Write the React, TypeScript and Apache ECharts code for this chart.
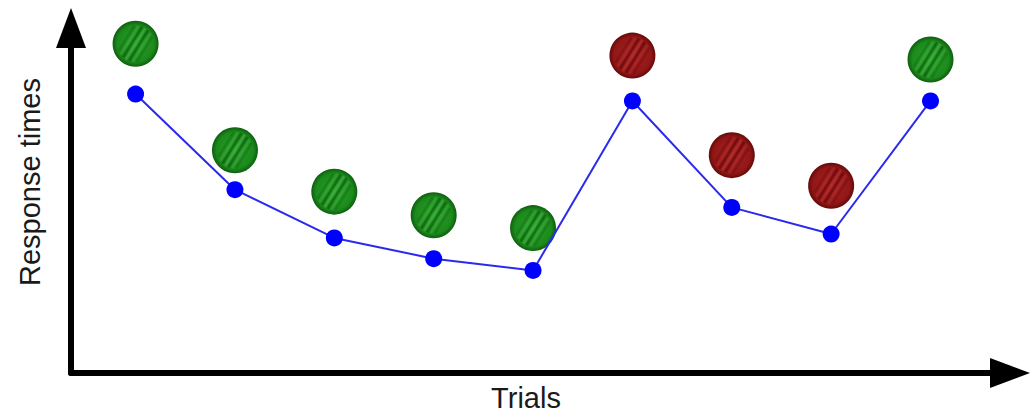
import React, { useEffect, useRef } from "react";
import * as echarts from "echarts";

const trials = [1, 2, 3, 4, 5, 6, 7, 8, 9];
const responseTimes = [28.3, 18.6, 13.7, 11.6, 10.4, 27.6, 16.8, 14.1, 27.6];
const stimulusLevels = [33.4, 22.6, 18.4, 16.0, 14.7, 32.2, 22.1, 19.0, 31.8];
const stimulusTypes = ["green", "green", "green", "green", "green", "red", "red", "red", "green"];
const xLabel = "Trials";
const yLabel = "Response times";

const palettes: Record<string, any> = {
  green: { center: "#28a028", mid: "#1c8a1c", edge: "#0e5e0e", dark: "#0a520a", light: "#55bb55" },
  red: { center: "#a52020", mid: "#931717", edge: "#650909", dark: "#580505", light: "#bf3a3a" },
};

export default function App() {
  const ref = useRef<HTMLDivElement>(null);
  useEffect(() => {
    if (!ref.current) return;
    const chart = echarts.init(ref.current, undefined, { renderer: "svg" });
    const font = "'Liberation Sans', Arial, Helvetica, sans-serif";
    chart.setOption({
      animation: false,
      backgroundColor: "#ffffff",
      grid: { left: 71, right: 22, top: 28, bottom: 42 },
      xAxis: {
        type: "value",
        min: 0.35,
        max: 9.8,
        splitLine: { show: false },
        axisTick: { show: false },
        axisLabel: { show: false },
        axisLine: {
          show: true,
          symbol: ["none", "triangle"],
          symbolSize: [30, 40],
          lineStyle: { color: "#000", width: 6 },
        },
      },
      yAxis: {
        type: "value",
        min: 0,
        max: 35,
        splitLine: { show: false },
        axisTick: { show: false },
        axisLabel: { show: false },
        axisLine: {
          show: true,
          symbol: ["none", "triangle"],
          symbolSize: [30, 40],
          lineStyle: { color: "#000", width: 6 },
        },
      },
      graphic: [
        {
          type: "text",
          x: 526,
          y: 398,
          style: {
            text: xLabel,
            fontSize: 29,
            fontFamily: font,
            fill: "#1a1a1a",
            align: "center",
            verticalAlign: "middle",
          },
        },
        {
          type: "text",
          x: 30,
          y: 182,
          rotation: Math.PI / 2,
          style: {
            text: yLabel,
            fontSize: 29,
            fontFamily: font,
            fill: "#1a1a1a",
            align: "center",
            verticalAlign: "middle",
          },
        },
      ],
      series: [
        {
          type: "custom",
          z: 2,
          data: trials.map((t, i) => [t, stimulusLevels[i]]),
          renderItem: (params: any, api: any) => {
            const c = api.coord([api.value(0), api.value(1)]);
            const p = palettes[stimulusTypes[params.dataIndex]];
            const r = 23;
            const children: any[] = [
              {
                type: "circle",
                shape: { cx: c[0], cy: c[1], r },
                style: {
                  fill: new echarts.graphic.RadialGradient(0.5, 0.5, 0.5, [
                    { offset: 0, color: p.center },
                    { offset: 0.8, color: p.mid },
                    { offset: 1, color: p.edge },
                  ]),
                },
              },
            ];
            const ang = (58 * Math.PI) / 180;
            const dx = Math.cos(ang);
            const dy = -Math.sin(ang);
            const nx = Math.sin(ang);
            const ny = Math.cos(ang);
            const offs = [-10.5, -7, -3.5, 0, 3.5, 7, 10.5];
            offs.forEach((o, k) => {
              const R = r * 0.75;
              const half = Math.sqrt(Math.max(0, R * R - o * o));
              const mx = c[0] + nx * o;
              const my = c[1] + ny * o;
              const isDark = k % 2 === 0;
              children.push({
                type: "line",
                shape: { x1: mx - dx * half, y1: my - dy * half, x2: mx + dx * half, y2: my + dy * half },
                style: {
                  stroke: isDark ? p.dark : p.light,
                  lineWidth: 2.6,
                  lineCap: "round",
                  opacity: (isDark ? 0.6 : 0.45) * Math.exp(-(o * o) / (2 * 8 * 8)),
                },
              });
            });
            return { type: "group", children };
          },
        },
        {
          type: "line",
          z: 3,
          data: trials.map((t, i) => [t, responseTimes[i]]),
          symbol: "circle",
          symbolSize: 17,
          itemStyle: { color: "#0000ff" },
          lineStyle: { color: "#2a2aee", width: 2 },
        },
      ],
    });
    return () => chart.dispose();
  }, []);
  return (
    <div
      ref={ref}
      style={{ position: "fixed", left: 0, top: 0, width: 1032, height: 415, background: "#fff" }}
    />
  );
}
